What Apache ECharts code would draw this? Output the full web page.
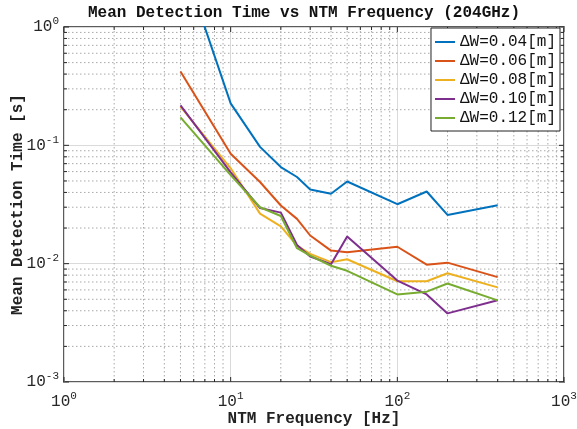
<!DOCTYPE html>
<html>
<head>
<meta charset="utf-8">
<script src="https://cdn.jsdelivr.net/npm/echarts@6/dist/echarts.min.js"></script>
<style>
  html, body { margin: 0; padding: 0; background: #fff; }
  #chart { width: 577px; height: 429px; }
</style>
</head>
<body>
<div id="chart"></div>
<script>
// NTM frequency [Hz] shared by all curves
const freq = [5, 10, 15, 20, 25, 30, 40, 50, 100, 150, 200, 400]

// mean detection time [s] per island width
const dw004 = [4.0, 0.226, 0.097, 0.0655, 0.054, 0.0424, 0.039, 0.0495, 0.0318, 0.0407, 0.0258, 0.0312]
const dw006 = [0.42, 0.085, 0.049, 0.031, 0.0239, 0.0173, 0.0129, 0.0125, 0.0139, 0.0098, 0.0102, 0.0077]
const dw008 = [0.212, 0.064, 0.0265, 0.0207, 0.0142, 0.0121, 0.0103, 0.0109, 0.0071, 0.0071, 0.0083, 0.0063]
const dw010 = [0.218, 0.059, 0.0295, 0.027, 0.0144, 0.0115, 0.0099, 0.017, 0.0072, 0.0055, 0.0038, 0.0049]
const dw012 = [0.172, 0.056, 0.030, 0.0253, 0.0135, 0.0117, 0.0096, 0.0087, 0.0055, 0.0058, 0.0068, 0.0049]

const seriesNames = ['ΔW=0.04[m]', 'ΔW=0.06[m]', 'ΔW=0.08[m]', 'ΔW=0.10[m]', 'ΔW=0.12[m]']
const seriesValues = [dw004, dw006, dw008, dw010, dw012]
const colors = ['#0072BD', '#D95319', '#EDB120', '#7E2F8E', '#77AC30']

// tick positions of the log axes
const xMajor = [1, 10, 100, 1000]
const xMinor = [2, 3, 4, 5, 6, 7, 8, 9, 20, 30, 40, 50, 60, 70, 80, 90, 200, 300, 400, 500, 600, 700, 800, 900]
const yMajor = [0.001, 0.01, 0.1, 1]
const yMinor = [0.002, 0.003, 0.004, 0.005, 0.006, 0.007, 0.008, 0.009,
  0.02, 0.03, 0.04, 0.05, 0.06, 0.07, 0.08, 0.09,
  0.2, 0.3, 0.4, 0.5, 0.6, 0.7, 0.8, 0.9]

const FONT = 'Liberation Mono'
const chart = echarts.init(document.getElementById('chart'), null, { renderer: 'canvas' })

const powLabel = (v) => '{b|10}{s|' + Math.round(Math.log10(v)) + '}'
const labelRich = {
  b: { fontFamily: FONT, fontSize: 16, color: '#262626' },
  s: { fontFamily: FONT, fontSize: 11, color: '#262626', padding: [0, 0, 11, 0] },
}

const dotted = { stroke: '#a9a9a9', lineWidth: 1, lineDash: [1.5, 2.5] }
const tickStyle = { stroke: '#262626', lineWidth: 1 }

// minor grid + inside ticks on all four sides, like a boxed MATLAB axes
function tickRenderer(dir) {
  return (params, api) => {
    const cs = params.coordSys
    const major = api.value(2) === 1
    const len = major ? 5 : 3
    const kids = []
    if (dir === 'x') {
      const px = api.coord([api.value(0), api.value(1)])[0]
      const y0 = cs.y, y1 = cs.y + cs.height
      if (!major) kids.push({ type: 'line', shape: { x1: px, y1: y0, x2: px, y2: y1 }, style: dotted })
      kids.push({ type: 'line', shape: { x1: px, y1: y1, x2: px, y2: y1 - len }, style: tickStyle })
      kids.push({ type: 'line', shape: { x1: px, y1: y0, x2: px, y2: y0 + len }, style: tickStyle })
    } else {
      const py = api.coord([api.value(0), api.value(1)])[1]
      const x0 = cs.x, x1 = cs.x + cs.width
      if (!major) kids.push({ type: 'line', shape: { x1: x0, y1: py, x2: x1, y2: py }, style: dotted })
      kids.push({ type: 'line', shape: { x1: x0, y1: py, x2: x0 + len, y2: py }, style: tickStyle })
      kids.push({ type: 'line', shape: { x1: x1, y1: py, x2: x1 - len, y2: py }, style: tickStyle })
    }
    return { type: 'group', children: kids }
  }
}

const xTickData = xMinor.map((v) => [v, 0.01, 0]).concat(xMajor.map((v) => [v, 0.01, 1]))
const yTickData = yMinor.map((v) => [10, v, 0]).concat(yMajor.map((v) => [10, v, 1]))

const lineSeries = seriesNames.map((name, i) => ({
  name,
  type: 'line',
  symbol: 'none',
  z: 3,
  color: colors[i],
  lineStyle: { width: 2, color: colors[i] },
  data: freq.map((f, j) => [f, seriesValues[i][j]]),
}))

chart.setOption({
  animation: false,
  backgroundColor: '#fff',
  title: {
    text: 'Mean Detection Time vs NTM Frequency (204GHz)',
    left: 88,
    top: 5,
    padding: 0,
    textStyle: { fontFamily: FONT, fontSize: 16, fontWeight: 'bold', color: '#111' },
  },
  grid: {
    left: 64, right: 13, top: 27, bottom: 47,
    outerBoundsMode: 'none',
    containLabel: false,
    show: true,
    borderColor: '#262626',
    borderWidth: 1.5,
    backgroundColor: 'transparent',
  },
  legend: {
    data: seriesNames,
    orient: 'vertical',
    right: 17,
    top: 28,
    padding: [6, 4, 5, 4],
    itemGap: 3,
    itemWidth: 20,
    itemHeight: 2,
    icon: 'rect',
    selectedMode: false,
    borderColor: '#222',
    borderWidth: 1,
    backgroundColor: '#fff',
    textStyle: { fontFamily: FONT, fontSize: 16, lineHeight: 16, color: '#111' },
  },
  xAxis: {
    type: 'log',
    logBase: 10,
    min: 1,
    max: 1000,
    name: 'NTM Frequency [Hz]',
    nameLocation: 'middle',
    nameGap: 29,
    nameMoveOverlap: false,
    nameTextStyle: { fontFamily: FONT, fontSize: 16, fontWeight: 'bold', color: '#222' },
    axisLine: { show: false },
    axisTick: { show: false },
    splitLine: { show: true, lineStyle: { color: '#dadada', width: 1 } },
    axisLabel: { margin: 9, formatter: powLabel, rich: labelRich },
  },
  yAxis: {
    type: 'log',
    logBase: 10,
    min: 0.001,
    max: 1,
    name: 'Mean Detection Time [s]',
    nameLocation: 'middle',
    nameGap: 38,
    nameMoveOverlap: false,
    nameTextStyle: { fontFamily: FONT, fontSize: 16, fontWeight: 'bold', color: '#222' },
    axisLine: { show: false },
    axisTick: { show: false },
    splitLine: { show: true, lineStyle: { color: '#dadada', width: 1 } },
    axisLabel: { margin: 5, formatter: powLabel, rich: labelRich },
  },
  series: [
    {
      type: 'custom',
      name: 'xticks',
      silent: true,
      z: 1,
      clip: false,
      encode: { x: 0, y: 1 },
      renderItem: tickRenderer('x'),
      data: xTickData,
    },
    {
      type: 'custom',
      name: 'yticks',
      silent: true,
      z: 1,
      clip: false,
      encode: { x: 0, y: 1 },
      renderItem: tickRenderer('y'),
      data: yTickData,
    },
    ...lineSeries,
  ],
})
</script>
</body>
</html>
